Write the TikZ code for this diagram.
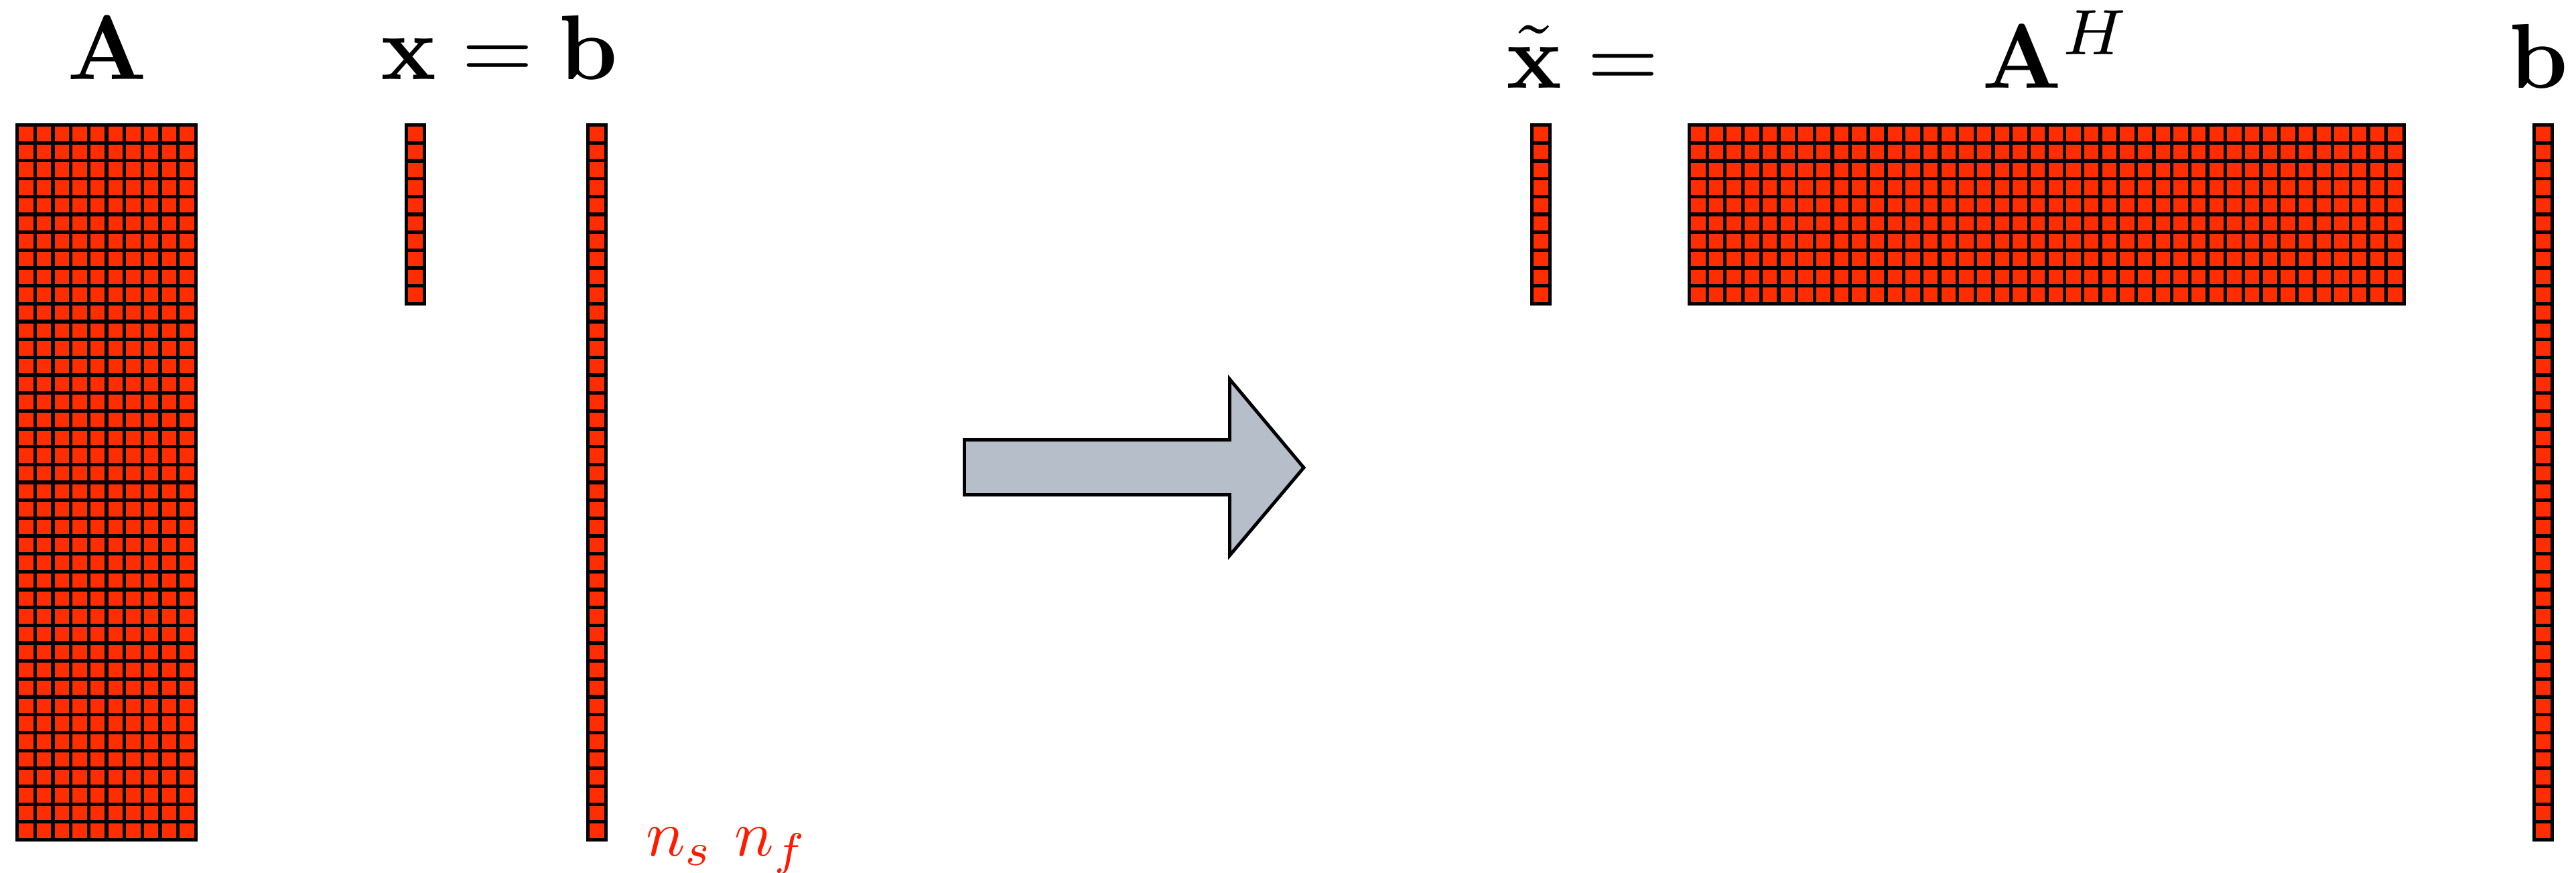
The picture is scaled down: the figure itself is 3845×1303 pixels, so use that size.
\documentclass[tikz,border=0pt]{standalone}
\usepackage{xcolor}
\definecolor{cCell}{HTML}{FF2D00}
\definecolor{cArrow}{HTML}{B6BEC9}
\definecolor{cDim}{HTML}{FF1A00}
\usepackage{tikz}
\usetikzlibrary{positioning}
\tikzset{
  mat-fill/.style={fill=cCell},
  mat-line/.style={draw=black,line width=1.5pt},
  block-arrow/.style={draw=black,line width=1.4pt,fill=cArrow,line join=miter},
  label-main/.style={inner sep=0pt,anchor=base,scale=3.9},
  label-dim/.style={inner sep=0pt,anchor=base,text=cDim,scale=2.77},
}
% left, top, right, bottom, cols, rows
\newcommand{\matblock}[6]{%
  \fill[mat-fill] (#1,#2) rectangle (#3,#4);
  \foreach \i in {0,...,#5}
    \draw[mat-line] ({#1+\i/#5*(#3-#1)},#2) -- ({#1+\i/#5*(#3-#1)},#4);
  \foreach \j in {0,...,#6}
    \draw[mat-line] (#1,{#2+\j/#6*(#4-#2)}) -- (#3,{#2+\j/#6*(#4-#2)});
  \draw[mat-line] (#1,#2) rectangle (#3,#4);
}

\begin{document}
\begin{tikzpicture}[x=0.01cm,y=-0.01cm]
  \useasboundingbox (0,0) rectangle (3845,1303);
  % left side
  \matblock{25.7}{186.5}{292.4}{1253.5}{10}{40}
  \matblock{606.7}{186.5}{633.3}{453.5}{1}{10}
  \matblock{877.7}{186.5}{904.3}{1253.5}{1}{40}
  \node[label-main] (lblA) at (160,118) {$\mathbf{A}$};
  \node[label-main] (lblXB) at (745,118) {$\mathbf{x} = \mathbf{b}$};
  \node[label-dim] (lblN) at (1085,1277) {$n_s\ n_f$};
  % arrow
  \draw[block-arrow] (1439.5,656.5) -- (1835.5,656.5) -- (1835.5,566) -- (1946,698)
    -- (1835.5,829) -- (1835.5,738.5) -- (1439.5,738.5) -- cycle;
  % right side
  \matblock{2286.7}{186.5}{2313.3}{453.5}{1}{10}
  \matblock{2521.5}{186.5}{3588.3}{453.5}{40}{10}
  \matblock{3782.7}{186.5}{3809.3}{1253.5}{1}{40}
  \node[label-main] (lblXt) at (2362,131) {$\tilde{\mathbf{x}} =$};
  \node[label-main] (lblAH) at (3070,131) {$\mathbf{A}^H$};
  \node[label-main] (lblB) at (3789,131) {$\mathbf{b}$};
\end{tikzpicture}
\end{document}
